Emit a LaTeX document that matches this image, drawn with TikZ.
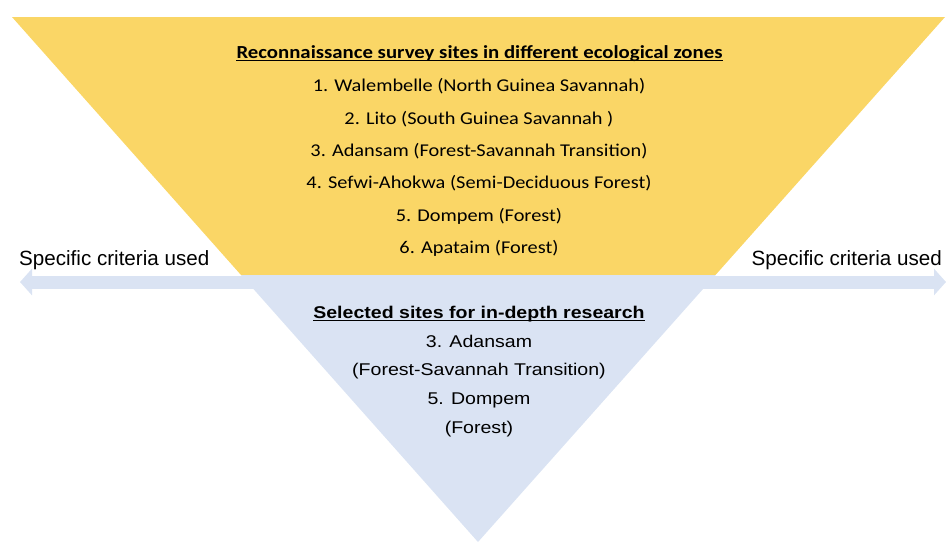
\documentclass[tikz,border=0pt]{standalone}
\usepackage{fontspec}
\setmainfont{Carlito}[FakeStretch=1.13]
\newfontfamily\arialfont{Liberation Sans}[FakeStretch=1.15]
\newfontfamily\labelfont{Liberation Sans}
\usetikzlibrary{arrows.meta}
\definecolor{zonegold}{RGB}{250,214,102}
\definecolor{sitepale}{RGB}{218,227,243}

\begin{document}
\begin{tikzpicture}[x=1pt,y=-1pt,
	zonetext/.style={anchor=base,inner sep=0pt,font=\fontsize{18}{22}\selectfont},
	sitetext/.style={anchor=base,inner sep=0pt,font=\arialfont\fontsize{17}{20}\selectfont},
	sidetext/.style={anchor=base,inner sep=0pt,font=\labelfont\fontsize{20.6}{24}\selectfont},
	uline/.style={line width=1.2pt},
	>={Triangle[length=12pt,width=26pt]}]
	\useasboundingbox (0,0) rectangle (946,542);
	\coordinate (TL) at (12,17);
	\coordinate (TR) at (945,17);
	\coordinate (BL) at (241,275);
	\coordinate (BR) at (715.5,275);
	\coordinate (apex) at (478,542);
	\fill[zonegold] (TL) -- (TR) -- (BR) -- (BL) -- cycle;
	\fill[sitepale] (BL) -- (BR) -- (apex) -- cycle;
	\coordinate (lt) at (20,282);
	\coordinate (rt) at (946,282);
	\draw[sitepale,line width=13pt,<->] (lt) -- (rt);
	\node[sidetext,anchor=base west] (critL) at (19,265.5) {Specific criteria used};
	\node[sidetext,anchor=base east] (critR) at (942,265.5) {Specific criteria used};
	% survey sites
	\node[zonetext,font=\fontsize{18.4}{22}\selectfont] (zones) at (479.5,58) {\textbf{Reconnaissance survey sites in different ecological zones}};
	\draw[uline] ([yshift=-2.2pt]zones.base west) -- ([yshift=-2.2pt]zones.base east);
	\node[zonetext] (z1) at (479,91.5) {1. Walembelle (North Guinea Savannah)};
	\node[zonetext] (z2) at (479,124) {2. Lito (South Guinea Savannah )};
	\node[zonetext] (z3) at (479,156.5) {3. Adansam (Forest-Savannah Transition)};
	\node[zonetext] (z4) at (479,188.5) {4. Sefwi-Ahokwa (Semi-Deciduous Forest)};
	\node[zonetext] (z5) at (479,221) {5. Dompem (Forest)};
	\node[zonetext] (z6) at (479,253.5) {6. Apataim (Forest)};
	% selected sites
	\node[sitetext] (sel) at (479,318) {\textbf{Selected sites for in-depth research}};
	\draw[uline] ([yshift=-2.2pt]sel.base west) -- ([yshift=-2.2pt]sel.base east);
	\node[sitetext] (s1) at (479,347) {3. Adansam};
	\node[sitetext] (s2) at (479,375.5) {(Forest-Savannah Transition)};
	\node[sitetext] (s3) at (479,404) {5. Dompem};
	\node[sitetext] (s4) at (479,433) {(Forest)};
\end{tikzpicture}
\end{document}
